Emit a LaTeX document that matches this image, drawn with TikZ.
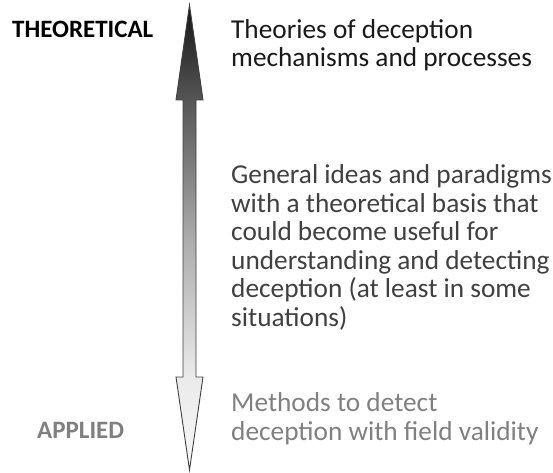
\documentclass[tikz,border=0pt]{standalone}
\usepackage{fontspec}
\setmainfont{Carlito}
\definecolor{inkdark}{HTML}{1A1A1A}
\definecolor{inkmid}{HTML}{404040}
\definecolor{inklight}{HTML}{808080}
\definecolor{arrowline}{HTML}{404040}
% grey ramp for the double arrow: light at the applied end, dark at the theoretical end
\pgfdeclareverticalshading{scaleramp}{100bp}{%
  color(0bp)=(white);
  color(25bp)=(white!97!black);
  color(35bp)=(black!8);
  color(50bp)=(black!33);
  color(65bp)=(black!67);
  color(75bp)=(black!92);
  color(100bp)=(black!92)}
\tikzset{
  % multi-line blocks are placed by the baseline of their last line
  body/.style={anchor=base west, align=left, inner sep=0pt, font=\fontsize{27.3}{28.5}\selectfont},
  endlabel/.style={anchor=base west, inner sep=0pt, font=\fontsize{25}{28}\selectfont\bfseries},
}
\begin{document}
\begin{tikzpicture}[x=1pt,y=1pt]
\useasboundingbox (0,0) rectangle (553,472);
% double-headed scale arrow
\shade[shading=scaleramp, draw=arrowline, line width=0.9pt, line join=miter]
  (189.5,467) -- (203,372) -- (196,372) -- (196,95) -- (203,95) -- (189.5,2)
  -- (176,95) -- (183,95) -- (183,372) -- (176,372) -- cycle;
% end labels
\node[endlabel, text=black] (theo) at (12,434) {THEORETICAL};
\node[endlabel, text=inklight] (appl) at (37,34) {APPLIED};
% descriptions along the scale
\node[body, text=inkdark] (top) at (231,405) {Theories of deception\\mechanisms and processes};
\node[body, text=inkmid] (mid) at (231,146) {General ideas and paradigms\\with a theoretical basis that\\could become useful for\\understanding and detecting\\deception (at least in some\\situations)};
\node[body, text=inklight] (low) at (231,32) {Methods to detect\\deception with field validity};
\end{tikzpicture}
\end{document}
